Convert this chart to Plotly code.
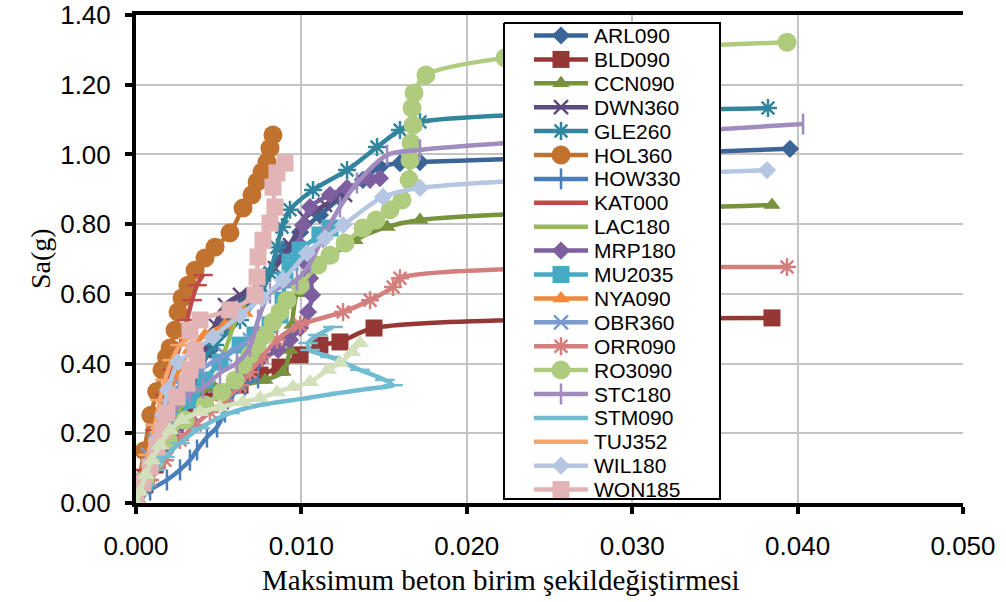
import plotly.graph_objects as go

# ---------------- data ----------------
ARL090_x = [0, 0.00085, 0.00175, 0.00266, 0.00357, 0.00447, 0.00538, 0.00659, 0.00780, 0.00901, 0.00992, 0.01112, 0.01233, 0.01372, 0.01475, 0.01596, 0.01717, 0.03954]
ARL090_y = [0, 0.095, 0.181, 0.267, 0.353, 0.439, 0.511, 0.582, 0.654, 0.726, 0.777, 0.826, 0.875, 0.927, 0.964, 0.975, 0.978, 1.016]

BLD090_x = [0, 0.00054, 0.00115, 0.00175, 0.00236, 0.00296, 0.00387, 0.00508, 0.00629, 0.00750, 0.00871, 0.00992, 0.01112, 0.01233, 0.01439, 0.03845]
BLD090_y = [0, 0.052, 0.109, 0.166, 0.224, 0.267, 0.301, 0.318, 0.338, 0.367, 0.390, 0.425, 0.453, 0.462, 0.502, 0.531]

CCN090_x = [0, 0.00054, 0.00115, 0.00193, 0.00266, 0.00357, 0.00478, 0.00629, 0.00780, 0.00889, 0.00931, 0.00943, 0.00973, 0.01052, 0.01173, 0.01324, 0.01518, 0.01717, 0.03845]
CCN090_y = [0, 0.066, 0.138, 0.209, 0.267, 0.310, 0.330, 0.338, 0.353, 0.376, 0.439, 0.511, 0.602, 0.654, 0.706, 0.754, 0.792, 0.812, 0.855]

DWN360_x = [0, 0.00054, 0.00115, 0.00193, 0.00266, 0.00339, 0.00417, 0.00478, 0.00538, 0.00629, 0.00750, 0.00840, 0.00931, 0.01022, 0.01143, 0.01264]
DWN360_y = [0, 0.072, 0.146, 0.224, 0.295, 0.367, 0.439, 0.511, 0.568, 0.597, 0.625, 0.674, 0.740, 0.818, 0.855, 0.884]

GLE260_x = [0, 0.00054, 0.00115, 0.00175, 0.00254, 0.00357, 0.00478, 0.00629, 0.00750, 0.00810, 0.00852, 0.00883, 0.00931, 0.01070, 0.01276, 0.01457, 0.01596, 0.01717, 0.03821]
GLE260_y = [0, 0.066, 0.138, 0.209, 0.295, 0.382, 0.453, 0.525, 0.597, 0.660, 0.734, 0.792, 0.841, 0.898, 0.955, 1.021, 1.070, 1.093, 1.133]

HOL360_x = [0, 0.00050, 0.00090, 0.00125, 0.00157, 0.00185, 0.00206, 0.00236, 0.00254, 0.00278, 0.00314, 0.00357, 0.00417, 0.00478, 0.00568, 0.00647, 0.00701, 0.00732, 0.00762, 0.00792, 0.00810, 0.00828]
HOL360_y = [0, 0.150, 0.252, 0.320, 0.382, 0.418, 0.445, 0.496, 0.548, 0.588, 0.625, 0.668, 0.703, 0.734, 0.775, 0.846, 0.884, 0.921, 0.950, 0.978, 1.018, 1.056]

HOW330_x = [0, 0.00085, 0.00187, 0.00266, 0.00326, 0.00369, 0.00429, 0.00490, 0.00538, 0.00586, 0.00659, 0.00738]
HOW330_y = [0, 0.037, 0.066, 0.095, 0.123, 0.152, 0.189, 0.218, 0.261, 0.310, 0.338, 0.359]

KAT000_x = [0, 0.00054, 0.00115, 0.00175, 0.00218, 0.00266, 0.00308, 0.00339, 0.00369, 0.00405]
KAT000_y = [0, 0.095, 0.209, 0.310, 0.382, 0.453, 0.525, 0.582, 0.625, 0.654]

LAC180_x = [0, 0.00054, 0.00133, 0.00218, 0.00326, 0.00447, 0.00538, 0.00580, 0.00629, 0.00689]
LAC180_y = [0, 0.066, 0.152, 0.238, 0.310, 0.367, 0.439, 0.496, 0.554, 0.591]

MRP180_x = [0, 0.00073, 0.00145, 0.00236, 0.00326, 0.00417, 0.00508, 0.00629, 0.00750, 0.00859, 0.00931, 0.00992, 0.01040, 0.01064, 0.01052, 0.01022, 0.00992, 0.01010, 0.01052, 0.01173, 0.01276, 0.01415, 0.01475]
MRP180_y = [0, 0.066, 0.129, 0.186, 0.238, 0.281, 0.318, 0.367, 0.410, 0.439, 0.468, 0.502, 0.548, 0.597, 0.645, 0.691, 0.740, 0.797, 0.849, 0.884, 0.904, 0.927, 0.932]

MU2035_x = [0, 0.00054, 0.00115, 0.00175, 0.00254, 0.00339, 0.00417, 0.00508, 0.00629, 0.00719, 0.00810, 0.00871, 0.00889, 0.00901, 0.00931, 0.00992, 0.01112, 0.01173]
MU2035_y = [0, 0.060, 0.123, 0.181, 0.238, 0.295, 0.353, 0.404, 0.453, 0.482, 0.511, 0.539, 0.582, 0.640, 0.691, 0.726, 0.769, 0.789]

NYA090_x = [0, 0.00054, 0.00115, 0.00175, 0.00236, 0.00326, 0.00417, 0.00538, 0.00659]
NYA090_y = [0, 0.080, 0.166, 0.267, 0.353, 0.439, 0.482, 0.511, 0.545]

OBR360_x = [0, 0.00036, 0.00073, 0.00115, 0.00175, 0.00266, 0.00387, 0.00538, 0.00689]
OBR360_y = [0, 0.066, 0.138, 0.209, 0.281, 0.338, 0.382, 0.425, 0.468]

ORR090_x = [0, 0.00085, 0.00175, 0.00266, 0.00357, 0.00447, 0.00538, 0.00629, 0.00689, 0.00762, 0.00852, 0.00992, 0.01252, 0.01415, 0.01554, 0.01596, 0.03936]
ORR090_y = [0, 0.066, 0.123, 0.181, 0.224, 0.261, 0.295, 0.338, 0.376, 0.419, 0.468, 0.511, 0.548, 0.582, 0.620, 0.645, 0.677]

RO3090_x = [0, 0.00054, 0.00115, 0.00193, 0.00296, 0.00417, 0.00520, 0.00599, 0.00647, 0.00689, 0.00732, 0.00780, 0.00828, 0.00871, 0.00913, 0.00992, 0.01100, 0.01173, 0.01264, 0.01372, 0.01451, 0.01536, 0.01608, 0.01651, 0.01657, 0.01663, 0.01675, 0.01669, 0.01681, 0.01753, 0.02231, 0.03936]
RO3090_y = [0, 0.066, 0.123, 0.181, 0.238, 0.281, 0.318, 0.353, 0.396, 0.425, 0.453, 0.482, 0.519, 0.548, 0.582, 0.625, 0.683, 0.711, 0.746, 0.789, 0.812, 0.841, 0.869, 0.927, 0.984, 1.033, 1.084, 1.133, 1.176, 1.228, 1.277, 1.322]

STC180_x = [0, 0.00073, 0.00145, 0.00236, 0.00326, 0.00405, 0.00508, 0.00611, 0.00689, 0.00738, 0.00810, 0.00973, 0.01052, 0.01131, 0.01233, 0.01336, 0.01518, 0.01717, 0.04033]
STC180_y = [0, 0.095, 0.181, 0.267, 0.316, 0.330, 0.373, 0.402, 0.448, 0.525, 0.602, 0.640, 0.688, 0.763, 0.849, 0.918, 0.998, 1.013, 1.087]

STM090_x = [0, 0.00054, 0.00115, 0.00175, 0.00266, 0.00387, 0.00568, 0.00750, 0.00992, 0.01233, 0.01445, 0.01554, 0.01505, 0.01354, 0.01173, 0.01052, 0.01040, 0.01100, 0.01191]
STM090_y = [0, 0.052, 0.095, 0.132, 0.172, 0.215, 0.258, 0.281, 0.298, 0.316, 0.330, 0.338, 0.353, 0.382, 0.419, 0.439, 0.459, 0.482, 0.505]

TUJ352_x = [0, 0.00036, 0.00073, 0.00115, 0.00145, 0.00175, 0.00218, 0.00266, 0.00314]
TUJ352_y = [0, 0.066, 0.138, 0.224, 0.295, 0.353, 0.410, 0.453, 0.473]

WIL180_x = [0, 0.00042, 0.00085, 0.00127, 0.00163, 0.00193, 0.00254, 0.00357, 0.00466, 0.00629, 0.00762, 0.00889, 0.01034, 0.01143, 0.01252, 0.01493, 0.01717, 0.03815]
WIL180_y = [0, 0.052, 0.109, 0.181, 0.252, 0.324, 0.404, 0.439, 0.476, 0.539, 0.588, 0.640, 0.717, 0.760, 0.797, 0.878, 0.904, 0.955]

WON185_x = [0, 0.00042, 0.00085, 0.00127, 0.00163, 0.00187, 0.00248, 0.00308, 0.00326, 0.00369, 0.00357, 0.00326, 0.00387, 0.00568, 0.00719, 0.00732, 0.00738, 0.00768, 0.00810, 0.00840, 0.00828, 0.00852, 0.00901]
WON185_y = [0, 0.057, 0.103, 0.161, 0.209, 0.258, 0.304, 0.344, 0.382, 0.410, 0.439, 0.496, 0.525, 0.554, 0.597, 0.648, 0.706, 0.754, 0.803, 0.849, 0.906, 0.947, 0.975]

# 21st record drawn in the plot but not listed in the legend (pale triangles)
EXTRA_x = [0, 0.00024, 0.00060, 0.00097, 0.00145, 0.00206, 0.00278, 0.00387, 0.00508, 0.00647, 0.00750, 0.00852, 0.00949, 0.01052, 0.01161, 0.01233, 0.01306, 0.01354]
EXTRA_y = [0, 0.032, 0.080, 0.123, 0.166, 0.209, 0.238, 0.261, 0.275, 0.290, 0.301, 0.318, 0.333, 0.347, 0.382, 0.402, 0.433, 0.459]

x_ticks = [0.0, 0.01, 0.02, 0.03, 0.04, 0.05]
x_tick_labels = ["0.000", "0.010", "0.020", "0.030", "0.040", "0.050"]
y_ticks = [0.0, 0.2, 0.4, 0.6, 0.8, 1.0, 1.2, 1.4]
y_tick_labels = ["0.00", "0.20", "0.40", "0.60", "0.80", "1.00", "1.20", "1.40"]
x_title = "Maksimum beton birim şekildeğiştirmesi"
y_title = "Sa(g)"

# ---------------- styles ----------------
# name, x, y, colour, symbol, marker size, open symbol?
series = [
    ("ARL090", ARL090_x, ARL090_y, "#3B6497", "diamond", 14, False),
    ("BLD090", BLD090_x, BLD090_y, "#953735", "square", 17, False),
    ("CCN090", CCN090_x, CCN090_y, "#77933C", "triangle-up", 15, False),
    ("DWN360", DWN360_x, DWN360_y, "#5F4A7E", "x-thin-open", 14, True),
    ("GLE260", GLE260_x, GLE260_y, "#31859C", "asterisk-open", 15, True),
    ("HOL360", HOL360_x, HOL360_y, "#C2722F", "circle", 19, False),
    ("HOW330", HOW330_x, HOW330_y, "#4A7EBB", "line-ns-open", 15, True),
    ("KAT000", KAT000_x, KAT000_y, "#BE4B48", "line-ew-open", 14, True),
    ("LAC180", LAC180_x, LAC180_y, "#98B954", None, 0, False),
    ("MRP180", MRP180_x, MRP180_y, "#7D5FA0", "diamond", 14, False),
    ("MU2035", MU2035_x, MU2035_y, "#46AAC5", "square", 17, False),
    ("NYA090", NYA090_x, NYA090_y, "#F08A3A", "triangle-up", 15, False),
    ("OBR360", OBR360_x, OBR360_y, "#7B9BD0", "x-thin-open", 14, True),
    ("ORR090", ORR090_x, ORR090_y, "#D47F7E", "asterisk-open", 15, True),
    ("RO3090", RO3090_x, RO3090_y, "#AFCB7E", "circle", 19, False),
    ("STC180", STC180_x, STC180_y, "#A08CBF", "line-ns-open", 15, True),
    ("STM090", STM090_x, STM090_y, "#72BCD2", "line-ew-open", 14, True),
    ("TUJ352", TUJ352_x, TUJ352_y, "#F9A56A", "line-ew-open", 14, True),
    ("WIL180", WIL180_x, WIL180_y, "#B4C6E2", "diamond", 14, False),
    ("WON185", WON185_x, WON185_y, "#E2B4B5", "square", 17, False),
]
extra = ("", EXTRA_x, EXTRA_y, "#D3E0BC", "triangle-up", 16, False)

LINE_W = 4.5
W, H = 1006, 602
# pixel layout of the reference
PL, PR, PT, PB = 136, 963, 15, 503           # plot area
LG_L, LG_R, LG_T, LG_B = 503, 721, 22, 500   # legend box
LG_ROW0, LG_STEP = 13.5, 23.9
LG_LINE0, LG_MARK, LG_LINE1, LG_TEXT = 31, 58, 85, 89
XT_X, XT_Y = 501, 580                        # x title centre
YT_X, YT_Y = 40, 259                         # y title centre

fig = go.Figure()


def add_series(name, xs, ys, color, symbol, size, is_open):
    mode = "lines+markers" if symbol else "lines"
    marker = dict()
    if symbol:
        marker = dict(symbol=symbol, size=size, color=color,
                      line=dict(color=color, width=2.5 if is_open else 0))
    fig.add_trace(go.Scatter(
        x=xs, y=ys, name=name, mode=mode, showlegend=False,
        line=dict(color=color, width=LINE_W, shape="spline", smoothing=0.8),
        marker=marker, xaxis="x", yaxis="y", hoverinfo="skip"))


for s in series:
    add_series(*s)
add_series(*extra)

# ---------------- hand-made legend on an overlay subplot ----------------
lw = LG_R - LG_L
lh = LG_B - LG_T
fig.add_trace(go.Scatter(
    x=[1, lw - 1, lw - 1, 1, 1], y=[1, 1, lh - 1, lh - 1, 1],
    mode="lines", fill="toself", fillcolor="white",
    line=dict(color="black", width=2), xaxis="x2", yaxis="y2",
    showlegend=False, hoverinfo="skip"))

annotations = []
for i, (name, xs, ys, color, symbol, size, is_open) in enumerate(series):
    yy = LG_ROW0 + LG_STEP * i
    fig.add_trace(go.Scatter(
        x=[LG_LINE0, LG_LINE1], y=[yy, yy], mode="lines",
        line=dict(color=color, width=LINE_W), xaxis="x2", yaxis="y2",
        showlegend=False, hoverinfo="skip"))
    if symbol:
        fig.add_trace(go.Scatter(
            x=[LG_MARK], y=[yy], mode="markers",
            marker=dict(symbol=symbol, size=size, color=color,
                        line=dict(color=color, width=2.5 if is_open else 0)),
            xaxis="x2", yaxis="y2", showlegend=False, hoverinfo="skip"))
    annotations.append(dict(
        x=LG_TEXT, y=yy, xref="x2", yref="y2", text=name, showarrow=False,
        xanchor="left", yanchor="middle",
        font=dict(family="Liberation Sans, Arial", size=21, color="black")))

pw, ph = PR - PL, PB - PT
annotations.append(dict(
    x=(XT_X - PL) / pw, y=(PB - XT_Y) / ph, xref="paper", yref="paper",
    text=x_title, showarrow=False, xanchor="center", yanchor="middle",
    font=dict(family="Liberation Serif, Times New Roman", size=29, color="black")))
annotations.append(dict(
    x=(YT_X - PL) / pw, y=(PB - YT_Y) / ph, xref="paper", yref="paper",
    text=y_title, showarrow=False, xanchor="center", yanchor="middle",
    textangle=-90,
    font=dict(family="Liberation Serif, Times New Roman", size=28, color="black")))

fig.update_layout(
    width=W, height=H,
    margin=dict(l=PL, r=W - PR, t=PT, b=H - PB),
    paper_bgcolor="white", plot_bgcolor="white",
    showlegend=False,
    annotations=annotations,
    xaxis=dict(
        range=[0, 0.05], tickvals=x_ticks, ticktext=x_tick_labels,
        showgrid=True, gridcolor="#C4C4C4", gridwidth=1.5,
        showline=True, linecolor="black", linewidth=4, mirror=True,
        ticks="outside", ticklen=7, tickwidth=4, tickcolor="black",
        ticklabelstandoff=10, automargin=False, ticklabeloverflow="allow",
        tickfont=dict(family="Liberation Sans, Arial", size=26, color="black"),
        zeroline=False, domain=[0, 1]),
    yaxis=dict(
        range=[0, 1.4], tickvals=y_ticks, ticktext=y_tick_labels,
        showgrid=True, gridcolor="#C4C4C4", gridwidth=1.5,
        showline=True, linecolor="black", linewidth=4,
        ticks="outside", ticklen=7, tickwidth=4, tickcolor="black",
        ticklabelstandoff=9, automargin=False, ticklabeloverflow="allow",
        tickfont=dict(family="Liberation Sans, Arial", size=26, color="black"),
        zeroline=False, domain=[0, 1]),
    xaxis2=dict(domain=[(LG_L - PL) / pw, (LG_R - PL) / pw], range=[0, lw],
                anchor="y2", visible=False, fixedrange=True),
    yaxis2=dict(domain=[(PB - LG_B) / ph, (PB - LG_T) / ph], range=[lh, 0],
                anchor="x2", visible=False, fixedrange=True),
)

# the page's default 8px body margin would push the 1006x602 figure off-window
fig.write_html("out.html", config={"displayModeBar": False},
               post_script="document.body.style.margin='0';")
